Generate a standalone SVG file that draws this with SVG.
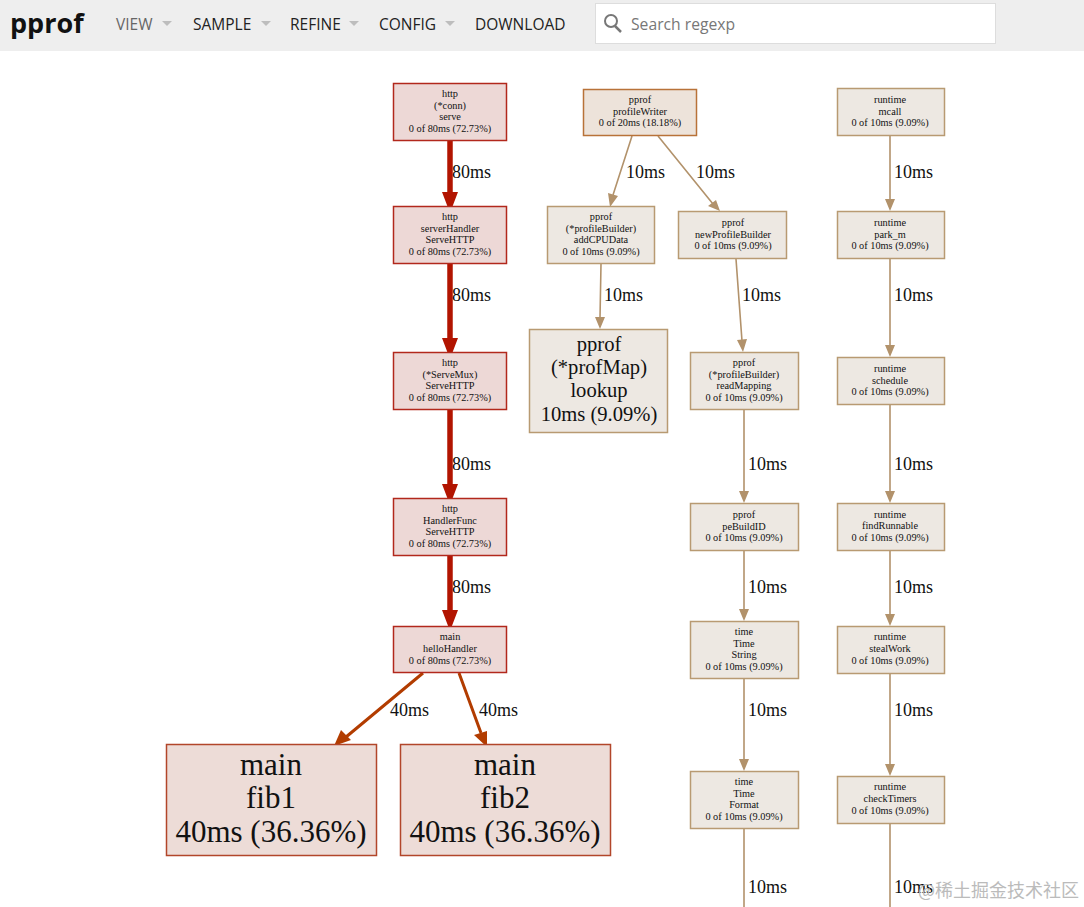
<svg xmlns="http://www.w3.org/2000/svg" width="1084" height="907" viewBox="0 0 1084 907">
<style>
.n{stroke-width:1.5}
.b{fill:#edd8d6;stroke:#b2281c}
.o{fill:#eddcd7;stroke:#b2462a}
.w{fill:#ede3da;stroke:#b87238}
.t{fill:#ede8e2;stroke:#b89a72}
text{font-family:"Liberation Serif",serif;fill:#111;text-anchor:middle}
.s{font-size:10.3px}
.e{font-size:18px;text-anchor:start}
.m{font-size:20.6px}
.l{font-size:31px}
.nav{font-family:"Open Sans","Noto Sans",sans-serif;font-size:15.5px;text-anchor:start;fill:#222}
.tan{stroke:#b2926b;stroke-width:1.6;fill:none}
.red{stroke:#b21400;stroke-width:5.5;fill:none}
.mid{stroke:#b23c00;stroke-width:3;fill:none}
.ha{fill:#b2926b}.hr{fill:#b21400}.hm{fill:#b23c00}
.tri{fill:#bdbdbd}
</style>
<rect width="1084" height="907" fill="#fff"/>
<g id="toolbar">
<rect width="1084" height="51" fill="#eeeeee"/>
<text x="10" y="33" style="font-family:'Open Sans','Noto Sans',sans-serif;font-size:27px;font-weight:700;text-anchor:start">pprof</text>
<text class="nav" x="116" y="30" style="fill:#666">VIEW</text><path class="tri" d="M162 21h10l-5 5z"/>
<text class="nav" x="193" y="30">SAMPLE</text><path class="tri" d="M261 21h10l-5 5z"/>
<text class="nav" x="290" y="30">REFINE</text><path class="tri" d="M349 21h10l-5 5z"/>
<text class="nav" x="379" y="30">CONFIG</text><path class="tri" d="M445 21h10l-5 5z"/>
<text class="nav" x="475" y="30">DOWNLOAD</text>
<rect x="595.500" y="3.500" width="400" height="40" fill="#fff" stroke="#ddd"/>
<circle cx="611" cy="21" r="6" fill="none" stroke="#777" stroke-width="2"/><path d="M615 26l6 6" stroke="#777" stroke-width="2.500"/>
<text class="nav" x="631" y="30" style="font-size:15.700px;fill:#777">Search regexp</text>
</g>
<g id="connectors">
<path class="red" d="M450 141V193M450 264V339M450 410V485M450 556V611"/>
<path class="hr" d="M442 192h16l-8 21zM442 338h16l-8 21zM442 484h16l-8 21zM442 610h16l-8 21z"/>
<path class="mid" d="M423 673L346 737M459 673L481 733"/>
<path class="hm" d="M341 730l10 10-17 6zM474 735l13-4 0 16z"/>
<path class="tan" d="M632 136L613 195M658 136L713 204M601 264L600 318M736 259L742 341M744 410V492M744 551V610M744 679V760M744 829V907M890 136V200M890 259V346M890 405V492M890 551V614M890 674V764M890 824V907"/>
<path class="ha" d="M608 193l10 3-8 11zM708 206l8-6 4 11zM595 317h10l-5 12zM737 340l10-1-4 13zM739 491h10l-5 12zM739 609h10l-5 12zM739 759h10l-5 12zM885 199h10l-5 12zM885 345h10l-5 12zM885 491h10l-5 12zM885 614h10l-5 12zM885 764h10l-5 12z"/>
</g>
<g id="edge-labels">
<text class="e" x="452" y="178">80ms</text><text class="e" x="452" y="301">80ms</text><text class="e" x="452" y="470">80ms</text><text class="e" x="452" y="593">80ms</text>
<text class="e" x="390" y="716">40ms</text><text class="e" x="479" y="716">40ms</text>
<text class="e" x="626" y="178">10ms</text><text class="e" x="696" y="178">10ms</text><text class="e" x="604" y="301">10ms</text><text class="e" x="742" y="301">10ms</text>
<text class="e" x="748" y="470">10ms</text><text class="e" x="748" y="593">10ms</text><text class="e" x="748" y="716">10ms</text><text class="e" x="748" y="893">10ms</text>
<text class="e" x="894" y="178">10ms</text><text class="e" x="894" y="301">10ms</text><text class="e" x="894" y="470">10ms</text><text class="e" x="894" y="593">10ms</text><text class="e" x="894" y="716">10ms</text><text class="e" x="894" y="893">10ms</text>
</g>
<g id="n1"><rect class="n b" x="393.500" y="83.500" width="113" height="57"/><text class="s" x="450" y="97">http</text><text class="s" x="450" y="109">(*conn)</text><text class="s" x="450" y="120">serve</text><text class="s" x="450" y="132">0 of 80ms (72.73%)</text></g>
<g id="n2"><rect class="n b" x="393.500" y="206.500" width="113" height="57"/><text class="s" x="450" y="220">http</text><text class="s" x="450" y="232">serverHandler</text><text class="s" x="450" y="243">ServeHTTP</text><text class="s" x="450" y="255">0 of 80ms (72.73%)</text></g>
<g id="n3"><rect class="n b" x="393.500" y="352.500" width="113" height="57"/><text class="s" x="450" y="366">http</text><text class="s" x="450" y="378">(*ServeMux)</text><text class="s" x="450" y="389">ServeHTTP</text><text class="s" x="450" y="401">0 of 80ms (72.73%)</text></g>
<g id="n4"><rect class="n b" x="393.500" y="498.500" width="113" height="57"/><text class="s" x="450" y="512">http</text><text class="s" x="450" y="524">HandlerFunc</text><text class="s" x="450" y="535">ServeHTTP</text><text class="s" x="450" y="547">0 of 80ms (72.73%)</text></g>
<g id="n5"><rect class="n b" x="393.500" y="626.500" width="113" height="46"/><text class="s" x="450" y="640">main</text><text class="s" x="450" y="652">helloHandler</text><text class="s" x="450" y="664">0 of 80ms (72.73%)</text></g>
<g id="n6"><rect class="n o" x="166.500" y="744.500" width="210" height="111"/><text class="l" x="271" y="775">main</text><text class="l" x="271" y="808">fib1</text><text class="l" x="271" y="842">40ms (36.36%)</text></g>
<g id="n7"><rect class="n o" x="400.500" y="744.500" width="210" height="111"/><text class="l" x="505" y="775">main</text><text class="l" x="505" y="808">fib2</text><text class="l" x="505" y="842">40ms (36.36%)</text></g>
<g id="n8"><rect class="n w" x="583.500" y="89.500" width="113" height="46"/><text class="s" x="640" y="103">pprof</text><text class="s" x="640" y="115">profileWriter</text><text class="s" x="640" y="126">0 of 20ms (18.18%)</text></g>
<g id="n9"><rect class="n t" x="547.500" y="206.500" width="107" height="57"/><text class="s" x="601" y="220">pprof</text><text class="s" x="601" y="232">(*profileBuilder)</text><text class="s" x="601" y="243">addCPUData</text><text class="s" x="601" y="255">0 of 10ms (9.09%)</text></g>
<g id="n10"><rect class="n t" x="678.500" y="211.500" width="108" height="47"/><text class="s" x="733" y="226">pprof</text><text class="s" x="733" y="238">newProfileBuilder</text><text class="s" x="733" y="249">0 of 10ms (9.09%)</text></g>
<g id="n11"><rect class="n t" x="529.500" y="329.500" width="138" height="103"/><text class="m" x="599" y="351">pprof</text><text class="m" x="599" y="374">(*profMap)</text><text class="m" x="599" y="397">lookup</text><text class="m" x="599" y="421">10ms (9.09%)</text></g>
<g id="n12"><rect class="n t" x="690.500" y="352.500" width="108" height="57"/><text class="s" x="744" y="366">pprof</text><text class="s" x="744" y="378">(*profileBuilder)</text><text class="s" x="744" y="389">readMapping</text><text class="s" x="744" y="401">0 of 10ms (9.09%)</text></g>
<g id="n13"><rect class="n t" x="690.500" y="503.500" width="108" height="47"/><text class="s" x="744" y="518">pprof</text><text class="s" x="744" y="530">peBuildID</text><text class="s" x="744" y="541">0 of 10ms (9.09%)</text></g>
<g id="n14"><rect class="n t" x="690.500" y="621.500" width="108" height="57"/><text class="s" x="744" y="635">time</text><text class="s" x="744" y="647">Time</text><text class="s" x="744" y="658">String</text><text class="s" x="744" y="670">0 of 10ms (9.09%)</text></g>
<g id="n15"><rect class="n t" x="690.500" y="771.500" width="108" height="57"/><text class="s" x="744" y="785">time</text><text class="s" x="744" y="797">Time</text><text class="s" x="744" y="808">Format</text><text class="s" x="744" y="820">0 of 10ms (9.09%)</text></g>
<g id="n16"><rect class="n t" x="837.500" y="88.500" width="107" height="47"/><text class="s" x="890" y="103">runtime</text><text class="s" x="890" y="115">mcall</text><text class="s" x="890" y="126">0 of 10ms (9.09%)</text></g>
<g id="n17"><rect class="n t" x="837.500" y="211.500" width="107" height="47"/><text class="s" x="890" y="226">runtime</text><text class="s" x="890" y="238">park_m</text><text class="s" x="890" y="249">0 of 10ms (9.09%)</text></g>
<g id="n18"><rect class="n t" x="837.500" y="357.500" width="107" height="47"/><text class="s" x="890" y="372">runtime</text><text class="s" x="890" y="384">schedule</text><text class="s" x="890" y="395">0 of 10ms (9.09%)</text></g>
<g id="n19"><rect class="n t" x="837.500" y="503.500" width="107" height="47"/><text class="s" x="890" y="518">runtime</text><text class="s" x="890" y="529">findRunnable</text><text class="s" x="890" y="541">0 of 10ms (9.09%)</text></g>
<g id="n20"><rect class="n t" x="837.500" y="626.500" width="107" height="47"/><text class="s" x="890" y="640">runtime</text><text class="s" x="890" y="652">stealWork</text><text class="s" x="890" y="664">0 of 10ms (9.09%)</text></g>
<g id="n21"><rect class="n t" x="837.500" y="776.500" width="107" height="47"/><text class="s" x="890" y="790">runtime</text><text class="s" x="890" y="802">checkTimers</text><text class="s" x="890" y="814">0 of 10ms (9.09%)</text></g>
<text x="918" y="897" style="font-family:'Noto Sans CJK SC','Liberation Sans',sans-serif;font-size:18px;fill:#bbb;text-anchor:start">@稀土掘金技术社区</text>
</svg>
